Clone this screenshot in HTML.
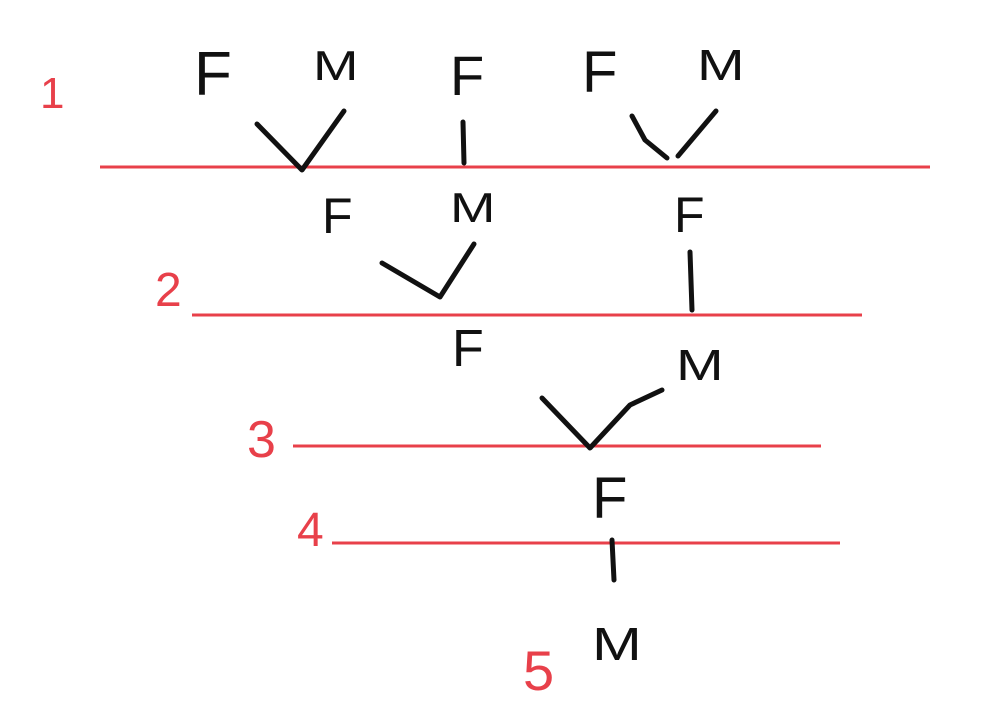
<!DOCTYPE html>
<html><head><meta charset="utf-8"><style>
html,body{margin:0;padding:0;background:#fff;}
svg{display:block;}
.l{font-family:"Liberation Sans",sans-serif;fill:#111;}
.n{font-family:"Liberation Sans",sans-serif;fill:#e8404a;}
.s{stroke:#111;stroke-width:5;fill:none;stroke-linecap:round;stroke-linejoin:round;}
.r{stroke:#e8404a;stroke-width:3;}
</style></head><body>
<svg width="982" height="728" viewBox="0 0 982 728">
<g>
<line class="r" x1="100" y1="167" x2="930" y2="167"/>
<line class="r" x1="192" y1="315" x2="862" y2="315"/>
<line class="r" x1="293" y1="446" x2="821" y2="446"/>
<line class="r" x1="332" y1="543" x2="840" y2="543"/>
</g>
<g>
<text class="n" x="40" y="108" font-size="44">1</text>
<text class="n" x="155" y="306" font-size="48">2</text>
<text class="n" x="247" y="457" font-size="52">3</text>
<text class="n" x="297" y="546" font-size="48">4</text>
<text class="n" x="523" y="690" font-size="56">5</text>
</g>
<g>
<polyline class="s" points="257,124 302,170 344,111"/>
<line class="s" x1="463" y1="122" x2="464" y2="163"/>
<polyline class="s" points="632,116 645,140 667,158"/>
<line class="s" x1="678" y1="156" x2="716" y2="111"/>
<polyline class="s" points="382,263 440,297 474,244"/>
<line class="s" x1="690" y1="252" x2="692" y2="310"/>
<polyline class="s" points="542,398 590,448 630,405 662,390"/>
<line class="s" x1="612" y1="540" x2="614" y2="580"/>
</g>
<g>
<text class="l" x="194" y="95" font-size="62">F</text>
<text class="l" font-size="42" transform="translate(313,80) scale(1.3,1)">M</text>
<text class="l" x="450" y="95" font-size="56">F</text>
<text class="l" x="582" y="92" font-size="58">F</text>
<text class="l" font-size="44" transform="translate(697,80) scale(1.3,1)">M</text>
<text class="l" x="322" y="233" font-size="50">F</text>
<text class="l" font-size="42" transform="translate(450,222) scale(1.3,1)">M</text>
<text class="l" x="674" y="232" font-size="50">F</text>
<text class="l" x="452" y="366" font-size="52">F</text>
<text class="l" font-size="44" transform="translate(676,380) scale(1.3,1)">M</text>
<text class="l" x="592" y="518" font-size="58">F</text>
<text class="l" font-size="46" transform="translate(592,660) scale(1.3,1)">M</text>
</g>
</svg>
</body></html>
